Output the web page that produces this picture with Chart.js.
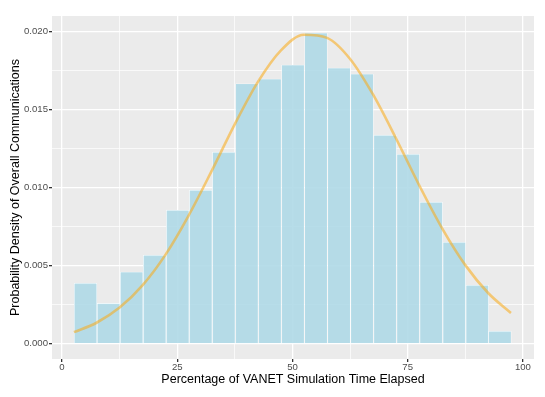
<!DOCTYPE html>
<html>
<head>
<meta charset="utf-8">
<script src="https://cdn.jsdelivr.net/npm/chart.js@4"></script>
<style>
    html, body { margin: 0; padding: 0; background: #ffffff; }
    #wrap { width: 545px; height: 397px; }
</style>
</head>
<body>
<div id="wrap"><canvas id="histChart" width="545" height="397"></canvas></div>
<script>
    // histogram bins (centre of each 5-unit bin) and their densities
    const binCentres = [5.1, 10.1, 15.1, 20.1, 25.1, 30.1, 35.1, 40.1, 45.1, 50.1,
        55.1, 60.1, 65.1, 70.1, 75.1, 80.1, 85.1, 90.1, 95.0];
    const binDensity = [0.00387, 0.00258, 0.00459, 0.00566, 0.00855, 0.00983, 0.01226, 0.01664, 0.01694, 0.01784,
        0.01989, 0.01765, 0.01726, 0.01335, 0.01213, 0.00906, 0.00649, 0.00374, 0.00079];

    // fitted density curve
    const curveX = [2.6, 7.5, 12.5, 17.5, 22.5, 27.5, 32.5, 37.5, 42.5, 47.5,
        52.5, 57.5, 62.5, 67.5, 72.5, 77.5, 82.5, 87.5, 92.5, 97.4];
    const curveY = [0.00074, 0.00134, 0.00231, 0.00375, 0.00572, 0.00822, 0.01108, 0.01406, 0.01676, 0.01878,
        0.01978, 0.01958, 0.01823, 0.01594, 0.01312, 0.01014, 0.00737, 0.00503, 0.00323, 0.00197];

    const xTicks = [0, 12.5, 25, 37.5, 50, 62.5, 75, 87.5, 100];
    const yTicks = [0, 0.0025, 0.005, 0.0075, 0.01, 0.0125, 0.015, 0.0175, 0.02];

    const isMajor = (v, step) => Math.abs(v / step - Math.round(v / step)) < 1e-6;
    const tickVal = c => (c && c.tick) ? c.tick.value : 0;

    const panelBackground = {
        id: 'panelBackground',
        beforeDraw(chart) {
            const { ctx, chartArea } = chart;
            ctx.save();
            ctx.fillStyle = '#EBEBEB';
            ctx.fillRect(chartArea.left, chartArea.top, chartArea.right - chartArea.left, chartArea.bottom - chartArea.top);
            ctx.restore();
        }
    };

    const ctx = document.getElementById('histChart').getContext('2d');
    new Chart(ctx, {
        data: {
            datasets: [{
                type: 'line',
                data: curveX.map((x, i) => ({ x: x, y: curveY[i] })),
                borderColor: 'rgba(250, 170, 20, 0.55)',
                borderWidth: 2.6,
                pointRadius: 0,
                tension: 0.4,
                cubicInterpolationMode: 'monotone',
                fill: false,
                order: 0
            }, {
                type: 'bar',
                data: binCentres.map((x, i) => ({ x: x, y: binDensity[i] })),
                backgroundColor: 'rgba(173, 216, 230, 0.88)',
                borderColor: '#ffffff',
                borderWidth: 0.6,
                barPercentage: 1,
                categoryPercentage: 1,
                grouped: false,
                order: 1
            }]
        },
        options: {
            responsive: false,
            animation: false,
            layout: { padding: { top: 16, right: 11, left: 0, bottom: 0 } },
            plugins: { legend: { display: false }, tooltip: { enabled: false } },
            scales: {
                x: {
                    type: 'linear',
                    offset: false,
                    min: -2.17,
                    max: 102.4,
                    afterBuildTicks: s => { s.ticks = xTicks.map(v => ({ value: v })); },
                    afterFit: s => { s.height = 38; },
                    border: { display: false },
                    grid: {
                        offset: false,
                        color: '#ffffff',
                        lineWidth: c => isMajor(tickVal(c), 25) ? 1.3 : 0.7,
                        tickColor: c => isMajor(tickVal(c), 25) ? '#333333' : 'rgba(0,0,0,0)',
                        tickLength: 3
                    },
                    ticks: {
                        autoSkip: false,
                        maxRotation: 0,
                        padding: 0,
                        color: '#4D4D4D',
                        font: { family: 'Liberation Sans', size: 9.6 },
                        callback: v => isMajor(v, 25) ? String(v) : ''
                    },
                    title: {
                        display: true,
                        text: 'Percentage of VANET Simulation Time Elapsed',
                        color: '#000000',
                        font: { family: 'Liberation Sans', size: 12.5 },
                        padding: { top: 0, bottom: 10 }
                    }
                },
                y: {
                    type: 'linear',
                    min: -0.00098,
                    max: 0.02098,
                    afterBuildTicks: s => { s.ticks = yTicks.map(v => ({ value: v })); },
                    afterFit: s => { s.width = 52; },
                    border: { display: false },
                    grid: {
                        color: '#ffffff',
                        lineWidth: c => isMajor(tickVal(c), 0.005) ? 1.3 : 0.7,
                        tickColor: c => isMajor(tickVal(c), 0.005) ? '#333333' : 'rgba(0,0,0,0)',
                        tickLength: 3
                    },
                    ticks: {
                        autoSkip: false,
                        padding: 1,
                        color: '#4D4D4D',
                        font: { family: 'Liberation Sans', size: 9.6 },
                        callback: v => isMajor(v, 0.005) ? v.toFixed(3) : ''
                    },
                    title: {
                        display: true,
                        text: 'Probability Density of Overall Communications',
                        color: '#000000',
                        font: { family: 'Liberation Sans', size: 12.5 },
                        padding: { top: 8, bottom: 0 }
                    }
                }
            }
        },
        plugins: [panelBackground]
    });
</script>
</body>
</html>
